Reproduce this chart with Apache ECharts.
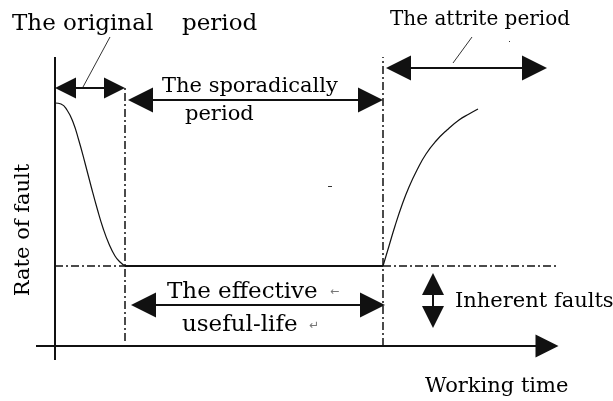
<!DOCTYPE html>
<html>
<head>
<meta charset="utf-8">
<script src="https://cdn.jsdelivr.net/npm/echarts@6/dist/echarts.min.js"></script>
<style>
  html, body { margin: 0; padding: 0; background: #fff; }
  #chart { width: 613px; height: 401px; }
</style>
</head>
<body>
<div id="chart"></div>
<script>
// bathtub curve: working time on x, rate of fault on y, origin at the axis crossing
const phaseEdges = [0, 70, 328];   // start, end of early failures, start of wear-out
const baseRate = 80;               // inherent fault level
const earlyTime = [0, 6, 12, 18, 24, 30, 36, 42, 48, 54, 60, 65, 70];
const earlyRate = [243, 242, 236, 224, 205, 183, 160, 138, 118, 102, 90, 84, 80];
const wearTime = [328, 334, 340, 347, 354, 362, 371, 381, 392, 404, 414, 423];
const wearRate = [80, 100, 120, 141, 159, 176, 192, 205, 216, 226, 232, 237];

// double arrows: [from, to, level]
const spanOriginal = [0, 70, 258];
const spanSporadic = [73, 328, 246];
const spanAttrite = [331, 492, 278];
const spanUseful = [76, 330, 41];
const spanInherent = [378, 73, 18]; // [time, top, bottom]

const axisTime = [-19, 503];
const axisRate = [-14, 289];
const baseLineEnd = 502;

const labels = ['The original', 'period', 'The sporadically', 'period', 'The attrite period',
  'The effective', 'useful-life', 'Inherent faults', 'Working time', 'Rate of fault'];

const INK = '#111';
const dashDot = [8, 3, 2, 3];
const font = (px) => px + 'px "DejaVu Serif"';

const chart = echarts.init(document.getElementById('chart'));

const seg = (a, b) => [{ coord: a }, { coord: b }];

const hArrow = (s, len) => seg([s[0] + len / 2, s[2]], [s[1] - len / 2, s[2]]);

function strokes(pairs, lineStyle, symbol, symbolSize) {
  return {
    type: 'line',
    data: [],
    silent: true,
    markLine: {
      silent: true,
      animation: false,
      symbol: symbol || 'none',
      symbolSize: symbolSize || 0,
      lineStyle: Object.assign({ color: INK, type: 'solid' }, lineStyle),
      itemStyle: { color: INK },
      label: { show: false },
      emphasis: { disabled: true },
      data: pairs
    }
  };
}

const curve = (t, r) => ({
  type: 'line',
  data: t.map((v, i) => [v, r[i]]),
  smooth: 0.5,
  showSymbol: false,
  silent: true,
  animation: false,
  lineStyle: { color: INK, width: 1.2 }
});

const text = (str, x, y, px, extra) => Object.assign({
  type: 'text',
  x, y,
  silent: true,
  style: { text: str, font: font(px || 21), fill: '#000', verticalAlign: 'middle' }
}, extra || {});

chart.setOption({
  animation: false,
  grid: { left: 0, right: 0, top: 0, bottom: 0 },
  xAxis: { type: 'value', min: -55, max: 558, show: false },
  yAxis: { type: 'value', min: -55, max: 346, show: false },
  series: [
    curve(earlyTime, earlyRate),
    curve(wearTime, wearRate),
    // y axis + flat bottom of the tub
    strokes([
      seg([phaseEdges[0], axisRate[0]], [phaseEdges[0], axisRate[1]]),
      seg([phaseEdges[1], baseRate], [phaseEdges[2], baseRate])
    ], { width: 2 }),
    // x axis with arrow
    strokes([seg([axisTime[0], 0], [axisTime[1] - 11, 0])], { width: 2 },
      ['none', 'triangle'], 23),
    // dash-dot guides
    strokes([
      seg([phaseEdges[1], 5], [phaseEdges[1], 261]),
      seg([phaseEdges[2], 0], [phaseEdges[2], 289]),
      seg([phaseEdges[0], baseRate], [phaseEdges[1], baseRate]),
      seg([phaseEdges[2], baseRate], [baseLineEnd, baseRate])
    ], { width: 1.5, type: dashDot }),
    // period arrows
    strokes([hArrow(spanOriginal, 21)], { width: 2 }, ['triangle', 'triangle'], 21),
    strokes([hArrow(spanSporadic, 25), hArrow(spanAttrite, 25), hArrow(spanUseful, 25)], { width: 2 },
      ['triangle', 'triangle'], 25),
    strokes([seg([spanInherent[0], spanInherent[1] - 11], [spanInherent[0], spanInherent[2] + 11])], { width: 2 },
      ['triangle', 'triangle'], 22),
    // leader lines and stray marks
    strokes([
      seg([28, 259], [55, 309]),
      seg([398, 283], [417, 309]),
      seg([273, 160], [277, 160]),
      seg([454, 305], [455, 305])
    ], { width: 1, color: '#333' })
  ],
  graphic: [
    text(labels[0], 12, 24, 23),
    text(labels[1], 182, 24, 23),
    text(labels[2], 162, 87),
    text(labels[3], 185, 115),
    text(labels[4], 390, 20, 20),
    text(labels[5], 167, 292, 23),
    { type: 'text', x: 330, y: 292, silent: true, style: { text: '\u2190', font: '11px "DejaVu Sans"', fill: '#777', verticalAlign: 'middle' } },
    text(labels[6], 182, 325, 23),
    { type: 'text', x: 309, y: 326, silent: true, style: { text: '\u21b5', font: '12px "DejaVu Sans"', fill: '#777', verticalAlign: 'middle' } },
    text(labels[7], 455, 302),
    text(labels[8], 425, 387),
    text(labels[9], 24, 230, 21, { rotation: Math.PI / 2, style: { text: labels[9], font: font(21), fill: '#000', align: 'center', verticalAlign: 'middle' } })
  ]
});
</script>
</body>
</html>
